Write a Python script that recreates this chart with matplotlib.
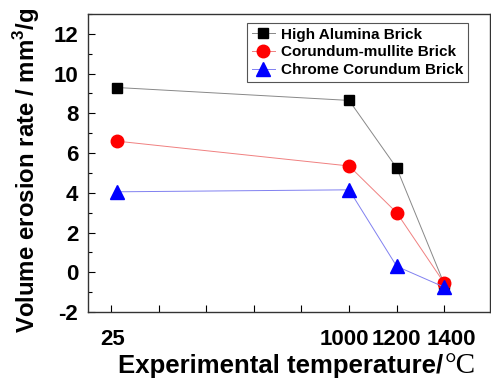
import matplotlib
matplotlib.use("Agg")
import matplotlib.pyplot as plt
import matplotlib.transforms as mtrans
from matplotlib.ticker import MultipleLocator

temps = [25, 1000, 1200, 1400]
high_alumina = [9.3, 8.65, 5.25, -0.6]
corundum_mullite = [6.6, 5.35, 3.0, -0.55]
chrome_corundum = [4.05, 4.15, 0.3, -0.75]
xtick_pos = [0, 200, 400, 600, 800, 1000, 1200, 1400]
xtick_labels = ["25", "", "", "", "", "1000", "1200", "1400"]

plt.rcParams['font.family'] = ['Liberation Sans', 'DejaVu Sans']
plt.rcParams['axes.unicode_minus'] = False
plt.rcParams['mathtext.fontset'] = 'custom'
plt.rcParams['mathtext.rm'] = 'Liberation Sans:bold'
plt.rcParams['mathtext.sf'] = 'Liberation Sans:bold'

W, H = 491, 380
fig = plt.figure(figsize=(W/100, H/100), dpi=100)
ax = fig.add_axes([88/W, 1-312/H, (490-88)/W, (312-14)/H])

ax.plot(temps, high_alumina, color='#888888', lw=0.7, marker='s', ms=7.5,
        mfc='black', mec='black', label='High Alumina Brick')
ax.plot(temps, corundum_mullite, color='#f08080', lw=0.7, marker='o', ms=9,
        mfc='red', mec='red', label='Corundum-mullite Brick')
ax.plot(temps, chrome_corundum, color='#8080f0', lw=0.7, marker='^', ms=9.5,
        mfc='blue', mec='blue', label='Chrome Corundum Brick')

ax.set_xlim(-97, 1592)
ax.set_ylim(-2, 13)
ax.set_xticks(xtick_pos)
ax.set_xticklabels(xtick_labels)
ax.yaxis.set_major_locator(MultipleLocator(2))
ax.yaxis.set_minor_locator(MultipleLocator(1))
ax.tick_params(direction='in', length=5, width=0.8, labelsize=16)
ax.tick_params(axis='x', pad=12)
ax.tick_params(axis='y', pad=7)
ax.tick_params(which='minor', direction='in', length=3, width=0.8)
for lab in ax.get_xticklabels() + ax.get_yticklabels():
    lab.set_fontweight('bold')
for s in ax.spines.values():
    s.set_linewidth(1.0)
    s.set_color('#333333')

# shift x tick labels slightly as in the reference
shifts = [2, 0, 0, 0, 0, -5, 0, 7]
for lab, dx in zip(ax.get_xticklabels(), shifts):
    lab.set_transform(lab.get_transform() + mtrans.ScaledTranslation(dx/100, 0, fig.dpi_scale_trans))

fig.text(27/W, 1-170/H, 'Volume erosion rate / mm$^{3}$/g', rotation=90,
         ha='center', va='center', fontsize=17.3, fontweight='bold')

t1 = fig.text(118/W, 7/H, 'Experimental temperature/', ha='left', va='baseline',
              fontsize=18.5, fontweight='bold')
fig.canvas.draw()
bb = t1.get_window_extent(renderer=fig.canvas.get_renderer())
fig.text(bb.x1/W + 1/W, 7/H, '°C', ha='left', va='baseline', fontsize=21,
         family='Liberation Serif')

leg = ax.legend(loc='upper right', bbox_to_anchor=(0.945, 0.97), fancybox=False,
                edgecolor='#555555', framealpha=1, prop={'weight': 'bold', 'size': 11},
                handlelength=1.5, handletextpad=0.4, borderpad=0.3, labelspacing=0.25,
                borderaxespad=0)
leg.get_frame().set_linewidth(0.8)

fig.savefig('out.png', dpi=100)
